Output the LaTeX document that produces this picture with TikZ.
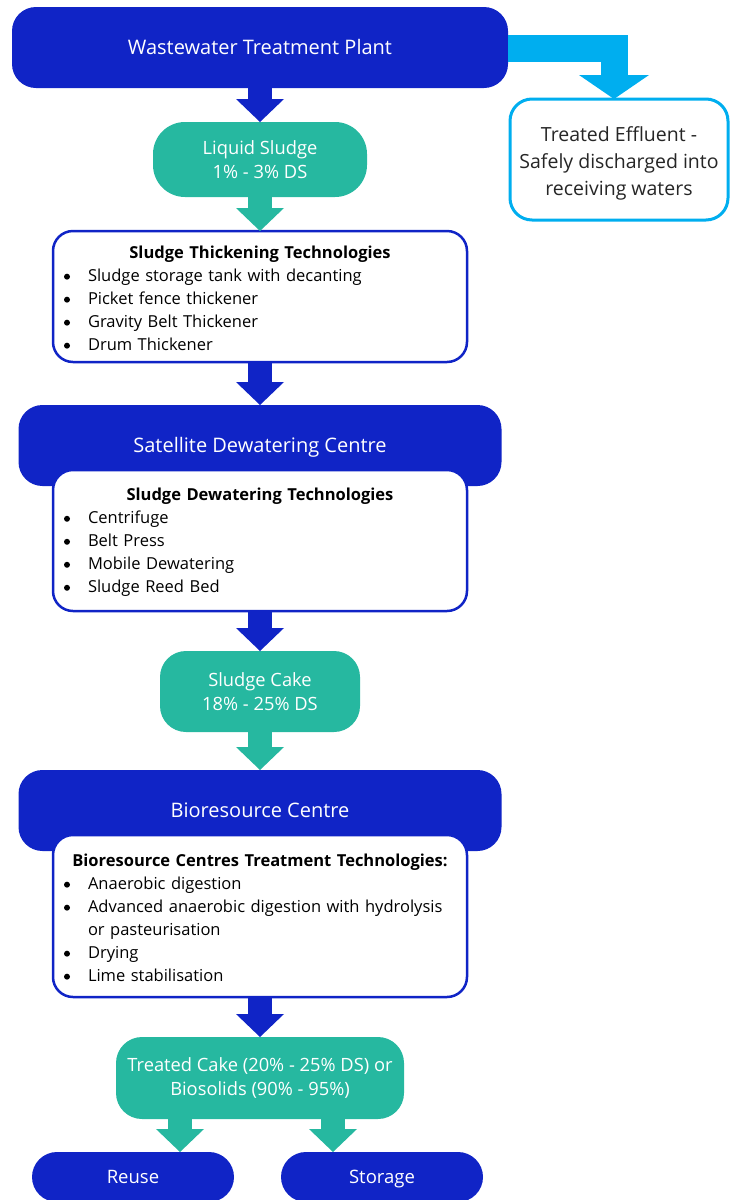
\documentclass[tikz,border=0pt]{standalone}
\usepackage{fontspec}
\setmainfont{Open Sans}
\usetikzlibrary{arrows.meta, positioning}

\definecolor{plantblue}{RGB}{16,36,198}
\definecolor{sludgegreen}{RGB}{38,184,160}
\definecolor{effluentcyan}{RGB}{0,174,239}

\newcommand{\bul}[1]{\makebox[24pt][l]{\tikz[baseline=0pt]\fill (3pt,5pt) circle (3pt);}#1}
\newcommand{\techhead}[1]{\makebox[\linewidth]{\rule{0pt}{16.5pt}\bfseries #1}}

\begin{document}
\begin{tikzpicture}[
  x=1pt, y=-1pt,
  node distance=34pt,
  stage/.style={rectangle, rounded corners=24pt, fill=plantblue, text=white, font=\fontsize{20}{24}\selectfont, text height=14pt, text depth=0pt, minimum height=81pt, inner sep=0pt, outer sep=0pt},
  sludge/.style={rectangle, rounded corners=26pt, fill=sludgegreen, text=white, align=center, font=\fontsize{18.3}{24}\selectfont, inner sep=0pt, outer sep=0pt},
  techbox/.style={rectangle, rounded corners=20pt, draw=plantblue, line width=2.5pt, fill=white, text width=392pt, inner xsep=11pt, align=left, font=\fontsize{16.5}{23}\selectfont, outer sep=0pt},
  outlet/.style={rectangle, rounded corners=22pt, draw=effluentcyan, line width=3pt, fill=white, align=center, text=black!85, font=\fontsize{19.5}{27}\selectfont, minimum width=218pt, minimum height=121pt, outer sep=0pt},
  bluearrow/.style={plantblue, line width=24pt, -{Triangle[width=48pt, length=23pt, line width=0pt]}},
  greenarrow/.style={sludgegreen, line width=24pt, -{Triangle[width=48pt, length=23pt, line width=0pt]}},
  cyanarrow/.style={effluentcyan, line width=27pt, line join=miter, -{Triangle[width=70pt, length=24pt, line width=0pt]}}
]
\useasboundingbox (0,0) rectangle (730,1200);

\node[stage, minimum width=496pt] (wtp) at (260,47.5) {Wastewater Treatment Plant};
\node[outlet] (effluent) at (619,159.5) {\rule{0pt}{22pt}Treated Effluent -\\Safely discharged into\\receiving waters};
\node[sludge, below=34pt of wtp, minimum width=214pt, minimum height=75pt, rounded corners=32pt] (liquid) {Liquid Sludge\\1\% - 3\% DS};
\node[techbox, below=34pt of liquid, minimum height=131pt] (thicken) {\techhead{Sludge Thickening Technologies}\\
  \bul{Sludge storage tank with decanting}\\
  \bul{Picket fence thickener}\\
  \bul{Gravity Belt Thickener}\\
  \bul{Drum Thickener}};

\node[stage, below=43pt of thicken, minimum width=483pt] (satellite) {Satellite Dewatering Centre};
\node[techbox, below=-16pt of satellite, minimum height=141pt] (dewater) {\techhead{Sludge Dewatering Technologies}\\
  \bul{Centrifuge}\\
  \bul{Belt Press}\\
  \bul{Mobile Dewatering}\\
  \bul{Sludge Reed Bed}};
\node[sludge, below=40pt of dewater, minimum width=200pt, minimum height=81pt] (cake) {Sludge Cake\\18\% - 25\% DS};

\node[stage, below=38pt of cake, minimum width=483pt] (bioresource) {Bioresource Centre};
\node[techbox, below=-16pt of bioresource, minimum height=162pt] (biotech) {\techhead{Bioresource Centres Treatment Technologies:}\\
  \bul{Anaerobic digestion}\\
  \bul{Advanced anaerobic digestion with hydrolysis}\\
  \hspace*{24pt}or pasteurisation\\
  \bul{Drying}\\
  \bul{Lime stabilisation}};
\node[sludge, below=40pt of biotech, minimum width=288pt, minimum height=82pt] (treated) {Treated Cake (20\% - 25\% DS) or\\Biosolids (90\% - 95\%)};

\node[stage, below=33pt of treated, xshift=-127pt, minimum width=202pt, minimum height=50pt, rounded corners=25pt, font=\fontsize{18.5}{24}\selectfont, text height=13pt] (reuse) {Reuse};
\node[stage, below=33pt of treated, xshift=122pt, minimum width=202pt, minimum height=50pt, rounded corners=25pt, font=\fontsize{18.5}{24}\selectfont, text height=13pt] (storage) {Storage};

% Flows
\draw[cyanarrow] ([yshift=-1pt]wtp.east) -| ([xshift=-5pt]effluent.north);
\draw[bluearrow] (wtp.south) -- (liquid.north);
\draw[greenarrow] (liquid.south) -- (thicken.north);
\draw[bluearrow] (thicken.south) -- (satellite.north);
\draw[bluearrow] (dewater.south) -- (cake.north);
\draw[greenarrow] (cake.south) -- (bioresource.north);
\draw[bluearrow] (biotech.south) -- (treated.north);
\draw[greenarrow] ([xshift=-80pt]treated.south) -- ([xshift=47pt]reuse.north);
\draw[greenarrow] ([xshift=73pt]treated.south) -- ([xshift=-49pt]storage.north);

\end{tikzpicture}
\end{document}
